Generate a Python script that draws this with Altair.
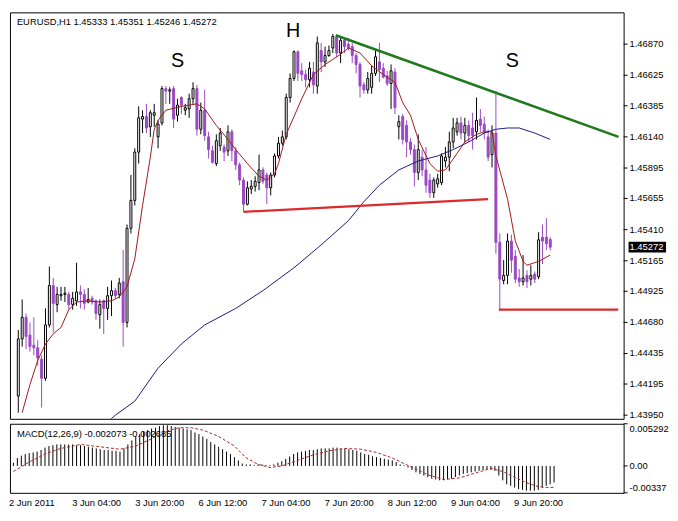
import altair as alt
import pandas as pd

# ---------------- data ----------------
bars = list(range(138))
opens = [1.4410, 1.4455, 1.4472, 1.4458, 1.4450, 1.4448, 1.4439, 1.4424, 1.4466, 1.4497,
         1.4482, 1.4489, 1.4490, 1.4490, 1.4482, 1.4485, 1.4492, 1.4490, 1.4484, 1.4487,
         1.4485, 1.4474, 1.4485, 1.4479, 1.4489, 1.4493, 1.4490, 1.4500, 1.4468, 1.4542,
         1.4564, 1.4602, 1.4628, 1.4630, 1.4622, 1.4631, 1.4614, 1.4625, 1.4652, 1.4650,
         1.4652, 1.4631, 1.4645, 1.4635, 1.4636, 1.4644, 1.4652, 1.4620, 1.4635, 1.4614,
         1.4603, 1.4593, 1.4607, 1.4606, 1.4603, 1.4618, 1.4603, 1.4592, 1.4580, 1.4561,
         1.4573, 1.4575, 1.4578, 1.4588, 1.4584, 1.4574, 1.4584, 1.4599, 1.4609, 1.4614,
         1.4645, 1.4660, 1.4681, 1.4666, 1.4663, 1.4659, 1.4665, 1.4654, 1.4682, 1.4673,
         1.4678, 1.4684, 1.4693, 1.4680, 1.4690, 1.4687, 1.4685, 1.4678, 1.4671, 1.4655,
         1.4651, 1.4653, 1.4664, 1.4673, 1.4668, 1.4662, 1.4656, 1.4665, 1.4622, 1.4630,
         1.4623, 1.4610, 1.4604, 1.4586, 1.4598, 1.4588, 1.4580, 1.4570, 1.4577, 1.4578,
         1.4595, 1.4598, 1.4610, 1.4618, 1.4625, 1.4617, 1.4623, 1.4621, 1.4618, 1.4628,
         1.4624, 1.4614, 1.4600, 1.4617, 1.4531, 1.4501, 1.4505, 1.4532, 1.4520, 1.4503,
         1.4500, 1.4505, 1.4502, 1.4506, 1.4504, 1.4535, 1.4535, 1.45333]
highs = [1.4462, 1.4486, 1.4475, 1.4468, 1.4472, 1.4454, 1.4442, 1.4479, 1.4512, 1.4503,
         1.4496, 1.4496, 1.4496, 1.4492, 1.4492, 1.4515, 1.4497, 1.4494, 1.4495, 1.4489,
         1.4486, 1.4486, 1.4486, 1.4496, 1.4501, 1.4495, 1.4503, 1.4525, 1.4545, 1.4584,
         1.4605, 1.4638, 1.4635, 1.4640, 1.4635, 1.4640, 1.4627, 1.4654, 1.4654, 1.4653,
         1.4654, 1.4644, 1.4646, 1.4640, 1.4648, 1.4657, 1.4655, 1.4641, 1.4651, 1.4618,
         1.4607, 1.4616, 1.4621, 1.4608, 1.4623, 1.4620, 1.4606, 1.4594, 1.4582, 1.4579,
         1.4580, 1.4583, 1.4600, 1.4590, 1.4586, 1.4586, 1.4601, 1.4614, 1.4619, 1.4648,
         1.4664, 1.4682, 1.4682, 1.4672, 1.4667, 1.4673, 1.4673, 1.4693, 1.4688, 1.4685,
         1.4686, 1.4695, 1.4694, 1.4692, 1.4692, 1.4692, 1.4688, 1.4680, 1.4673, 1.4657,
         1.4665, 1.4670, 1.4683, 1.4688, 1.4672, 1.4666, 1.4671, 1.4668, 1.4631, 1.4632,
         1.4627, 1.4613, 1.4608, 1.4616, 1.4604, 1.4606, 1.4585, 1.4582, 1.4585, 1.4601,
         1.4606, 1.4618, 1.4629, 1.4629, 1.4630, 1.4629, 1.4627, 1.4633, 1.4645, 1.4636,
         1.4630, 1.4620, 1.4623, 1.4650, 1.4538, 1.4517, 1.4538, 1.4537, 1.4525, 1.4510,
         1.4521, 1.4509, 1.4513, 1.4508, 1.4539, 1.4545, 1.4550, 1.45351]
lows = [1.4397, 1.4449, 1.4447, 1.4445, 1.4442, 1.4434, 1.4401, 1.4422, 1.4464, 1.4460,
        1.4476, 1.4485, 1.4484, 1.4478, 1.4478, 1.4481, 1.4479, 1.4478, 1.4483, 1.4482,
        1.4470, 1.4463, 1.4459, 1.4470, 1.4473, 1.4487, 1.4487, 1.4449, 1.4464, 1.4538,
        1.4560, 1.4593, 1.4617, 1.4617, 1.4614, 1.4622, 1.4605, 1.4623, 1.4640, 1.4640,
        1.4621, 1.4626, 1.4632, 1.4631, 1.4629, 1.4640, 1.4615, 1.4616, 1.4611, 1.4597,
        1.4593, 1.4591, 1.4603, 1.4595, 1.4599, 1.4595, 1.4588, 1.4576, 1.4555, 1.4560,
        1.4569, 1.4571, 1.4572, 1.4577, 1.4561, 1.4568, 1.4582, 1.4597, 1.4607, 1.4612,
        1.4641, 1.4658, 1.4658, 1.4658, 1.4653, 1.4653, 1.4648, 1.4648, 1.4665, 1.4669,
        1.4677, 1.4680, 1.4677, 1.4672, 1.4680, 1.4682, 1.4672, 1.4664, 1.4645, 1.4648,
        1.4648, 1.4648, 1.4662, 1.4657, 1.4660, 1.4654, 1.4636, 1.4632, 1.4612, 1.4608,
        1.4598, 1.4600, 1.4575, 1.4580, 1.4583, 1.4570, 1.4566, 1.4566, 1.4574, 1.4576,
        1.4590, 1.4587, 1.4605, 1.4615, 1.4612, 1.4610, 1.4610, 1.4604, 1.4612, 1.4618,
        1.4612, 1.4595, 1.4590, 1.4522, 1.4477, 1.4498, 1.4498, 1.4507, 1.4499, 1.4496,
        1.4497, 1.4495, 1.4497, 1.4499, 1.4502, 1.4514, 1.4525, 1.45246]
closes = [1.4455, 1.4472, 1.4457, 1.4449, 1.4448, 1.4440, 1.4424, 1.4466, 1.4497, 1.4483,
          1.4490, 1.4490, 1.4491, 1.4482, 1.4487, 1.4492, 1.4490, 1.4483, 1.4486, 1.4484,
          1.4475, 1.4482, 1.4479, 1.4489, 1.4493, 1.4489, 1.4499, 1.4468, 1.4542, 1.4564,
          1.4602, 1.4629, 1.4630, 1.4621, 1.4633, 1.4633, 1.4624, 1.4652, 1.4650, 1.4651,
          1.4628, 1.4639, 1.4639, 1.4637, 1.4644, 1.4652, 1.4620, 1.4635, 1.4615, 1.4604,
          1.4594, 1.4611, 1.4617, 1.4602, 1.4618, 1.4603, 1.4592, 1.4580, 1.4561, 1.4574,
          1.4575, 1.4579, 1.4588, 1.4579, 1.4574, 1.4584, 1.4599, 1.4609, 1.4614, 1.4645,
          1.4660, 1.4681, 1.4664, 1.4663, 1.4659, 1.4668, 1.4655, 1.4688, 1.4673, 1.4678,
          1.4682, 1.4693, 1.4680, 1.4690, 1.4685, 1.4684, 1.4678, 1.4671, 1.4654, 1.4651,
          1.4660, 1.4664, 1.4677, 1.4667, 1.4661, 1.4656, 1.4666, 1.4637, 1.4626, 1.4612,
          1.4610, 1.4604, 1.4586, 1.4604, 1.4588, 1.4576, 1.4570, 1.4580, 1.4581, 1.4599,
          1.4598, 1.4610, 1.4621, 1.4625, 1.4617, 1.4623, 1.4615, 1.4615, 1.4627, 1.4623,
          1.4618, 1.4598, 1.4617, 1.4531, 1.4502, 1.4505, 1.4532, 1.4517, 1.4502, 1.4500,
          1.4503, 1.4500, 1.4505, 1.4502, 1.4533, 1.4532, 1.4530, 1.45272]

# fast moving average (red)
ma_fast_bar = [1, 3, 5, 7, 9, 11, 13, 15, 18, 21, 24, 26, 28, 30, 32, 34, 35, 36, 38, 42,
               46, 48, 51, 54, 56, 59, 62, 64, 66, 67, 69, 73, 76, 79, 83, 85, 88, 91, 94, 97,
               99, 101, 103, 106, 108, 110, 113, 115, 118, 120, 122, 123, 126, 128, 130, 131,
               133, 134, 137]
ma_fast_val = [1.4397, 1.4419, 1.4438, 1.4451, 1.4459, 1.4464, 1.4478, 1.4484, 1.4485, 1.4484,
               1.4485, 1.4488, 1.4496, 1.4518, 1.4560, 1.4598, 1.4620, 1.4627, 1.4635, 1.4638,
               1.4640, 1.4636, 1.4623, 1.4612, 1.4604, 1.4593, 1.4583, 1.4580, 1.4585, 1.4593,
               1.4616, 1.4644, 1.4663, 1.4671, 1.4679, 1.4684, 1.4680, 1.4670, 1.4663, 1.4657,
               1.4641, 1.4631, 1.4612, 1.4593, 1.4587, 1.4588, 1.4601, 1.4610, 1.4616, 1.4618,
               1.4618, 1.4599, 1.4565, 1.4532, 1.4516, 1.4513, 1.4515, 1.4516, 1.4521]
# slow moving average (blue)
ma_slow_bar = [22, 25, 30, 36, 42, 48, 56, 63, 71, 78, 85, 89, 93, 98, 103, 108, 112, 116,
               120, 123, 126, 129, 133, 137]
ma_slow_val = [1.4387, 1.4395, 1.4406, 1.4432, 1.4451, 1.4466, 1.4479, 1.4493, 1.4511, 1.4529,
               1.4548, 1.4563, 1.4576, 1.4588, 1.4595, 1.4599, 1.4604, 1.4610, 1.4617, 1.4620,
               1.4621, 1.4621, 1.4617, 1.4612]

macd_hist = [0.0004, 0.0010, 0.0013, 0.0015, 0.0016, 0.0017, 0.0018, 0.0020, 0.0023, 0.0025,
             0.0026, 0.0027, 0.0027, 0.0027, 0.0027, 0.0027, 0.0026, 0.0026, 0.0025, 0.0024,
             0.0023, 0.0022, 0.0021, 0.0020, 0.0020, 0.0019, 0.0019, 0.0018, 0.0022, 0.0027,
             0.0032, 0.0037, 0.0040, 0.0043, 0.0045, 0.0047, 0.0048, 0.0050, 0.0051, 0.0051,
             0.0050, 0.0049, 0.0048, 0.0047, 0.0046, 0.0045, 0.0042, 0.0040, 0.0037, 0.0034,
             0.0030, 0.0027, 0.0024, 0.0021, 0.0018, 0.0015, 0.0011, 0.0007, 0.0003, 0.0002,
             0.0002, 0.0001, 0.0002, 0.0002, 0.0001, 0.0001, 0.0002, 0.0004, 0.0006, 0.0009,
             0.0012, 0.0015, 0.0017, 0.0018, 0.0019, 0.0020, 0.0020, 0.0021, 0.0022, 0.0022,
             0.0022, 0.0023, 0.0023, 0.0022, 0.0022, 0.0021, 0.0020, 0.0019, 0.0017, 0.0015,
             0.0014, 0.0012, 0.0011, 0.0010, 0.0009, 0.0008, 0.0007, 0.0005, 0.0002, 0.0001,
             -0.0002, -0.0005, -0.0008, -0.0010, -0.0012, -0.0014, -0.0016, -0.0017, -0.0018, -0.0018,
             -0.0017, -0.0016, -0.0014, -0.0012, -0.0010, -0.0009, -0.0008, -0.0007, -0.0006, -0.0005,
             -0.0004, -0.0005, -0.0006, -0.0012, -0.0018, -0.0023, -0.0025, -0.0027, -0.0029, -0.0030,
             -0.0031, -0.0031, -0.0031, -0.0030, -0.0027, -0.0025, -0.0023, -0.002073]
signal_bar = [0, 4, 8, 12, 17, 22, 27, 31, 35, 39, 42, 45, 48, 52, 56, 59, 62, 65, 68, 72,
              76, 80, 84, 88, 92, 96, 99, 102, 105, 109, 113, 117, 121, 124, 127, 130, 133, 135, 137]
signal_val = [-0.0007, 0.0005, 0.0015, 0.0022, 0.0027, 0.0024, 0.0021, 0.0025, 0.0034, 0.0044,
              0.0048, 0.0048, 0.0045, 0.0037, 0.0025, 0.0010, 0.0002, -0.0002, 0.0000, 0.0007,
              0.0014, 0.0019, 0.0022, 0.0021, 0.0017, 0.0010, 0.0003, -0.0004, -0.0011, -0.0017,
              -0.0015, -0.0009, -0.0003, -0.0007, -0.0014, -0.0021, -0.0026, -0.0027, -0.002685]

price_ticks = [1.43950, 1.44195, 1.44435, 1.44680, 1.44925, 1.45165, 1.45410,
               1.45655, 1.45895, 1.46140, 1.46385, 1.46625, 1.46870]
price_tick_labels = ["1.43950", "1.44195", "1.44435", "1.44680", "1.44925", "1.45165", "1.45410",
                     "1.45655", "1.45895", "1.46140", "1.46385", "1.46625", "1.46870"]
macd_ticks = [0.005292, 0.0, -0.00337]
macd_tick_labels = ["0.005292", "0.00", "-0.00337"]
time_tick_bars = [0, 16, 32, 48, 64, 80, 96, 112, 128]
time_tick_labels = ["2 Jun 2011", "3 Jun 04:00", "3 Jun 20:00", "6 Jun 12:00", "7 Jun 04:00",
                    "7 Jun 20:00", "8 Jun 12:00", "9 Jun 04:00", "9 Jun 20:00"]

green_bar = [81.75, 154.6]
green_price = [1.4694, 1.4614]
neck_bar = [58, 121]
neck_price = [1.4555, 1.4565]
target_bar = [123.75, 154.5]
target_price = [1.4478, 1.4478]
letter_text = ["S", "H", "S"]
letter_bar = [41, 70.75, 127.25]
letter_price = [1.46734, 1.46976, 1.46734]

header = "EURUSD,H1  1.45333 1.45351 1.45246 1.45272"
macd_header = "MACD(12,26,9) -0.002073 -0.002685"
last_label = "1.45272"

# ---------------- styling ----------------
PURPLE = "#9a48c4"
FONT = "Liberation Sans"
FS = 9.5
W = 622
H_MAIN = 412
H_MACD = 70

x_scale = alt.Scale(domain=[-0.875, 154.625], nice=False, zero=False)
y_scale = alt.Scale(domain=[1.43921, 1.47120], nice=False, zero=False)
m_scale = alt.Scale(domain=[-0.00337, 0.005292], nice=False, zero=False)

cdf = pd.DataFrame({"bar": bars, "open": opens, "high": highs, "low": lows, "close": closes})
cdf["dir"] = ["up" if c >= o else "down" for o, c in zip(opens, closes)]
dir_dom = ["up", "down"]

wicks = alt.Chart(cdf).mark_rule(strokeWidth=1).encode(
    x=alt.X("bar:Q", scale=x_scale, axis=None),
    y=alt.Y("low:Q", scale=y_scale, axis=None),
    y2="high:Q",
    color=alt.Color("dir:N", scale=alt.Scale(domain=dir_dom, range=["#000000", PURPLE]), legend=None),
)
bodies = alt.Chart(cdf).mark_bar(size=2, strokeWidth=1).encode(
    x=alt.X("bar:Q", scale=x_scale, axis=None),
    y=alt.Y("open:Q", scale=y_scale, axis=None),
    y2="close:Q",
    fill=alt.Fill("dir:N", scale=alt.Scale(domain=dir_dom, range=["#ffffff", PURPLE]), legend=None),
    stroke=alt.Stroke("dir:N", scale=alt.Scale(domain=dir_dom, range=["#000000", PURPLE]), legend=None),
)

def xy_line(bx, py, color, width, clip=True):
    df = pd.DataFrame({"bar": bx, "price": py})
    return alt.Chart(df).mark_line(color=color, strokeWidth=width, clip=clip).encode(
        x=alt.X("bar:Q", scale=x_scale, axis=None), y=alt.Y("price:Q", scale=y_scale, axis=None))

fast_line = xy_line(ma_fast_bar, ma_fast_val, "#a01818", 1)
slow_line = xy_line(ma_slow_bar, ma_slow_val, "#1a1a80", 1)
green_line = xy_line(green_bar, green_price, "#1f7a1f", 2.6)
neck_line = xy_line(neck_bar, neck_price, "#dd2a2a", 2.2)
target_line = xy_line(target_bar, target_price, "#dd2a2a", 2.2)

letters_df = pd.DataFrame({"t": letter_text, "bar": letter_bar, "price": letter_price})
letters = alt.Chart(letters_df).mark_text(fontSize=20, font=FONT, color="black",
                                          baseline="middle").encode(
    x=alt.X("bar:Q", scale=x_scale, axis=None), y=alt.Y("price:Q", scale=y_scale, axis=None),
    text="t:N")

head_df = pd.DataFrame({"t": [header]})
head = alt.Chart(head_df).mark_text(align="left", baseline="middle", fontSize=FS, font=FONT,
                                    color="black").encode(
    x=alt.value(7), y=alt.value(10), text="t:N")

# right-hand price scale (ticks + labels)
ptick_df = pd.DataFrame({"price": price_ticks, "t": price_tick_labels})
p_ticks = alt.Chart(ptick_df).mark_rule(color="black", strokeWidth=1, clip=False).encode(
    x=alt.value(W), x2=alt.value(W + 4), y=alt.Y("price:Q", scale=y_scale, axis=None))
p_labels = alt.Chart(ptick_df).mark_text(align="left", baseline="middle", fontSize=FS, font=FONT,
                                         color="black", clip=False).encode(
    x=alt.value(W + 6), y=alt.Y("price:Q", scale=y_scale, axis=None), text="t:N")

tag_df = pd.DataFrame({"price": [closes[-1]], "t": [last_label]})
tag_box = alt.Chart(tag_df).mark_tick(orient="horizontal", size=38, thickness=11,
                                      color="black", opacity=1, clip=False).encode(
    x=alt.value(W + 24), y=alt.Y("price:Q", scale=y_scale, axis=None))
tag_text = alt.Chart(tag_df).mark_text(align="left", baseline="middle", fontSize=FS, font=FONT,
                                       color="white", clip=False).encode(
    x=alt.value(W + 6), y=alt.Y("price:Q", scale=y_scale, axis=None), text="t:N")

main = alt.layer(wicks, bodies, fast_line, slow_line, green_line, neck_line, target_line,
                 letters, head, p_ticks, p_labels, tag_box, tag_text).properties(
    width=W, height=H_MAIN)

# ---------------- MACD panel ----------------
def ternary(values, labels, default):
    expr = "'" + default + "'"
    for v, l in reversed(list(zip(values, labels))):
        expr = "(datum.value == %r ? '%s' : %s)" % (v, l, expr)
    return expr

time_expr = ternary(time_tick_bars, time_tick_labels, "")

mdf = pd.DataFrame({"bar": bars, "hist": macd_hist, "base": [0.0] * len(bars)})
hist = alt.Chart(mdf).mark_rule(color="black", strokeWidth=1).encode(
    x=alt.X("bar:Q", scale=x_scale,
            axis=alt.Axis(values=time_tick_bars, labelExpr=time_expr, title=None, ticks=False,
                          labelAlign="left", labelPadding=5, labelOffset=-5,
                          labelOverlap=False)),
    y=alt.Y("hist:Q", scale=m_scale, axis=None),
    y2="base:Q",
)
sdf = pd.DataFrame({"bar": signal_bar, "sig": signal_val})
sig = alt.Chart(sdf).mark_line(color="#a52a2a", strokeWidth=1, strokeDash=[3, 2]).encode(
    x=alt.X("bar:Q", scale=x_scale), y=alt.Y("sig:Q", scale=m_scale, axis=None))
mhead_df = pd.DataFrame({"t": [macd_header]})
mhead = alt.Chart(mhead_df).mark_text(align="left", baseline="middle", fontSize=FS, font=FONT,
                                      color="black").encode(
    x=alt.value(7), y=alt.value(10), text="t:N")

mtick_df = pd.DataFrame({"v": macd_ticks, "t": macd_tick_labels})
m_ticks = alt.Chart(mtick_df).mark_rule(color="black", strokeWidth=1, clip=False).encode(
    x=alt.value(W), x2=alt.value(W + 4), y=alt.Y("v:Q", scale=m_scale, axis=None))
m_layers = []
for i, base in enumerate(["top", "middle", "bottom"]):
    m_layers.append(
        alt.Chart(mtick_df.iloc[[i]]).mark_text(align="left", baseline=base, fontSize=FS,
                                                font=FONT, color="black", clip=False).encode(
            x=alt.value(W + 6), y=alt.Y("v:Q", scale=m_scale, axis=None), text="t:N"))

macd = alt.layer(hist, sig, mhead, m_ticks, *m_layers).properties(width=W, height=H_MACD)

chart = alt.vconcat(main, macd, spacing=2).properties(
    padding=0, background="white"
).configure_view(stroke="black", strokeWidth=1).configure_axis(
    labelFont=FONT, labelFontSize=FS, labelColor="black", tickColor="black",
    domain=False, grid=False
)

chart.save("out.html", embed_options={"renderer": "svg", "actions": False})
